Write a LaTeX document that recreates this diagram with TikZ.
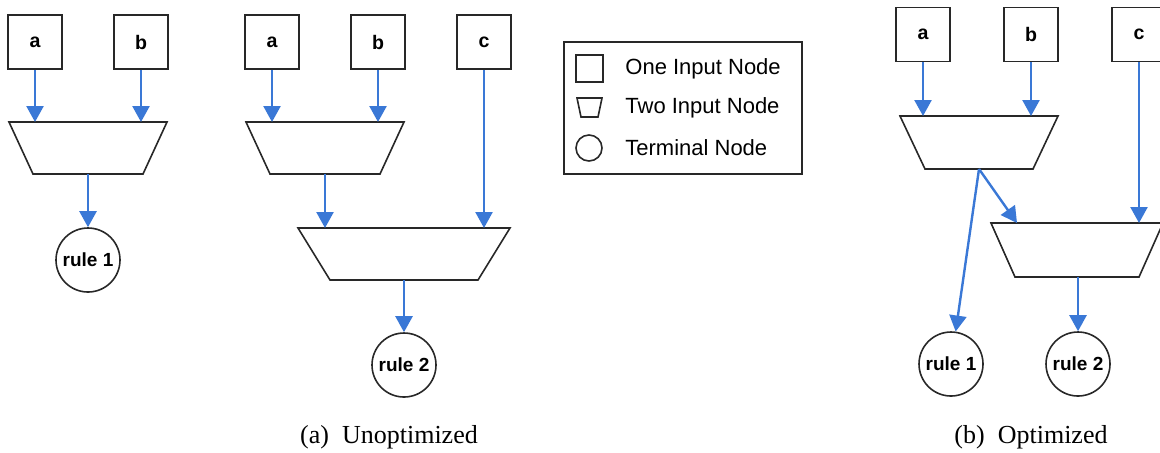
\documentclass[tikz,border=0pt]{standalone}
\usepackage{fontspec}
\setmainfont{Liberation Serif}
\setsansfont{Liberation Sans}
\usetikzlibrary{arrows.meta}
\definecolor{flowblue}{RGB}{58,120,214}
\definecolor{edgegray}{RGB}{40,40,40}

% trapezoid drawn around a named rectangular node: top is the long side,
% bottom is inset by #2 pixels on each side
\newcommand{\twoinput}[5]{% name, inset, center, half-width, height
  \node[trapbase, minimum width=#4pt, minimum height=#5pt] (#1) at (#3) {};
  \draw[trapline] (#1.north west) -- (#1.north east)
    -- ([xshift=-#2*0.5pt]#1.south east) -- ([xshift=#2*0.5pt]#1.south west) -- cycle;
}

\tikzset{
  inbox/.style={draw=edgegray, line width=0.8pt, minimum width=27pt, minimum height=27pt,
    inner sep=0pt, font=\sffamily\bfseries\fontsize{9.8}{11}\selectfont},
  termnode/.style={circle, draw=edgegray, line width=0.8pt, minimum size=32pt, inner sep=0pt,
    font=\sffamily\bfseries\fontsize{9.5}{11}\selectfont},
  trapbase/.style={rectangle, inner sep=0pt, outer sep=0pt},
  trapline/.style={draw=edgegray, line width=0.8pt, line join=miter},
  arr/.style={draw=flowblue, line width=1.2pt, -{Triangle[width=8.5pt,length=8pt]}},
  legtext/.style={anchor=west, font=\sffamily\fontsize{11}{13}\selectfont, inner sep=0pt},
  captext/.style={font=\fontsize{13}{15}\selectfont, inner sep=0pt}
}

\begin{document}
\begin{tikzpicture}[x=0.5pt, y=-0.5pt]
\useasboundingbox (0,0) rectangle (1160,452);

% ---------- (a) left: rule 1 ----------
\node[inbox] (a1) at (35,42) {a};
\node[inbox] (b1) at (141,42) {b};
\twoinput{t1}{24}{88,148}{79}{26}
\node[termnode] (r1) at (88,260) {rule 1};
\draw[arr] (a1.south) -- (a1.south |- t1.north);
\draw[arr] (b1.south) -- (b1.south |- t1.north);
\draw[arr] (t1.south) -- (r1);

% ---------- (a) right: rule 2 ----------
\node[inbox] (a2) at (272,42) {a};
\node[inbox] (b2) at (378,42) {b};
\node[inbox] (c2) at (484,42) {c};
\twoinput{t2}{24}{325,148}{79}{26}
\twoinput{t3}{32}{404,254}{106}{26}
\node[termnode] (r2) at (404,365) {rule 2};
\draw[arr] (a2.south) -- (a2.south |- t2.north);
\draw[arr] (b2.south) -- (b2.south |- t2.north);
\draw[arr] (t2.south) -- (t2.south |- t3.north);
\draw[arr] (c2.south) -- (c2.south |- t3.north);
\draw[arr] (t3.south) -- (r2);

% ---------- legend ----------
\node[draw=edgegray, line width=0.8pt, minimum width=119pt, minimum height=66pt,
  inner sep=0pt] (legend) at (683,108) {};
\node[draw=edgegray, line width=0.8pt, minimum width=13.5pt, minimum height=13.5pt,
  inner sep=0pt] (legsq) at (589.5,68.5) {};
\twoinput{legtr}{4}{589.5,107.5}{12.5}{9.5}
\node[circle, draw=edgegray, line width=0.8pt, minimum size=13pt, inner sep=0pt]
  (legci) at (589,148) {};
\node[legtext] (leg1) at (625,69) {One Input Node};
\node[legtext] (leg2) at (625,108) {Two Input Node};
\node[legtext] (leg3) at (625,148) {Terminal Node};

% ---------- (b) optimized ----------
\node[inbox] (a3) at (923,34.5) {a};
\node[inbox] (b3) at (1031,34.5) {b};
\node[inbox] (c3) at (1139,34.5) {c};
\twoinput{t4}{25}{979,142.5}{79}{26.5}
\twoinput{t5}{24}{1077,250}{86}{27}
\node[termnode] (r3) at (951,364) {rule 1};
\node[termnode] (r4) at (1078,364) {rule 2};
\draw[arr] (a3.south) -- (a3.south |- t4.north);
\draw[arr] (b3.south) -- (b3.south |- t4.north);
\draw[arr] (t4.south) -- ([xshift=13pt]t5.north west);
\draw[arr] (t4.south) -- (r3);
\draw[arr] (c3.south) -- (c3.south |- t5.north);
\draw[arr] (r4 |- t5.south) -- (r4);

% ---------- captions ----------
\node[captext] (capa) at (389,437) {(a)\enspace Unoptimized};
\node[captext] (capb) at (1031,437) {(b)\enspace Optimized};
\end{tikzpicture}
\end{document}
